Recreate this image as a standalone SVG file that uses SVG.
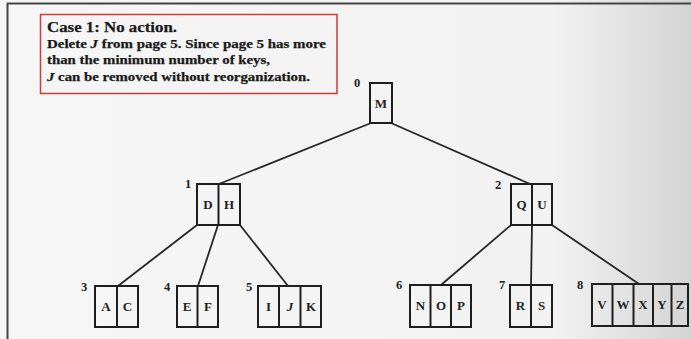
<svg xmlns="http://www.w3.org/2000/svg" width="691" height="339" viewBox="0 0 691 339">
  <defs>
    <linearGradient id="page" x1="0" y1="0" x2="1" y2="0">
      <stop offset="0" stop-color="#f6f6f6"/>
      <stop offset="0.8" stop-color="#f2f2f2"/>
      <stop offset="1" stop-color="#d4d4d4"/>
    </linearGradient>
    <style>
      .box { fill: none; stroke: #1e1e1e; stroke-width: 2; }
      .div { stroke: #1e1e1e; stroke-width: 2; }
      .edge { stroke: #262626; stroke-width: 1.8; fill: none; }
      .key { font-family: "Liberation Serif", "Times New Roman", serif; font-weight: bold; font-size: 13px; fill: #222; text-anchor: middle; }
      .num { font-family: "Liberation Serif", "Times New Roman", serif; font-weight: bold; font-size: 12.5px; fill: #222; text-anchor: middle; }
      .cap { font-family: "Liberation Serif", "Times New Roman", serif; font-weight: bold; fill: #1a1a1a; stroke: #1a1a1a; stroke-width: 0.25; }
    </style>
  </defs>

  <!-- page -->
  <rect x="0" y="0" width="691" height="339" fill="url(#page)"/>
  <line x1="7" y1="3.5" x2="691" y2="3.5" stroke="#444" stroke-width="2"/>
  <line x1="7.5" y1="3" x2="7.5" y2="339" stroke="#444" stroke-width="2"/>

  <!-- caption -->
  <g id="caption">
    <rect x="40.5" y="14.5" width="296.5" height="79" fill="none" stroke="#d23a3a" stroke-width="1.5"/>
    <text class="cap" x="47" y="32" font-size="14.5" textLength="130" lengthAdjust="spacingAndGlyphs">Case 1: No action.</text>
    <text class="cap" x="47" y="48" font-size="12.5" textLength="279" lengthAdjust="spacingAndGlyphs">Delete <tspan font-style="italic">J</tspan> from page 5. Since page 5 has more</text>
    <text class="cap" x="47" y="64" font-size="12.5" textLength="223" lengthAdjust="spacingAndGlyphs">than the minimum number of keys,</text>
    <text class="cap" x="47" y="81" font-size="12.5" textLength="263" lengthAdjust="spacingAndGlyphs"><tspan font-style="italic">J</tspan> can be removed without reorganization.</text>
  </g>

  <!-- connectors -->
  <g id="connectors">
    <line class="edge" x1="371" y1="123" x2="219" y2="184"/>
    <line class="edge" x1="391" y1="123" x2="530" y2="184"/>
    <line class="edge" x1="197" y1="225" x2="118" y2="286"/>
    <line class="edge" x1="218" y1="225" x2="198" y2="286"/>
    <line class="edge" x1="240" y1="225" x2="288" y2="286"/>
    <line class="edge" x1="511" y1="225" x2="441" y2="285"/>
    <line class="edge" x1="532" y1="225" x2="531" y2="285"/>
    <line class="edge" x1="552" y1="225" x2="639" y2="284"/>
  </g>

  <!-- page 0 -->
  <g id="page0">
    <text class="num" x="357" y="87">0</text>
    <rect class="box" x="370" y="83" width="22" height="40"/>
    <text class="key" x="381" y="108">M</text>
  </g>

  <!-- page 1 -->
  <g id="page1">
    <text class="num" x="188" y="188">1</text>
    <rect class="box" x="197" y="184" width="43" height="41"/>
    <line class="div" x1="218.5" y1="184" x2="218.5" y2="225"/>
    <text class="key" x="208" y="209">D</text>
    <text class="key" x="229" y="209">H</text>
  </g>

  <!-- page 2 -->
  <g id="page2">
    <text class="num" x="498" y="189">2</text>
    <rect class="box" x="511" y="184" width="41" height="41"/>
    <line class="div" x1="532" y1="184" x2="532" y2="225"/>
    <text class="key" x="521.5" y="209">Q</text>
    <text class="key" x="542" y="209">U</text>
  </g>

  <!-- page 3 -->
  <g id="page3">
    <text class="num" x="84" y="291">3</text>
    <rect class="box" x="95" y="286" width="43" height="41"/>
    <line class="div" x1="117" y1="286" x2="117" y2="327"/>
    <text class="key" x="106" y="311">A</text>
    <text class="key" x="127.5" y="311">C</text>
  </g>

  <!-- page 4 -->
  <g id="page4">
    <text class="num" x="167" y="291">4</text>
    <rect class="box" x="177" y="286" width="41" height="41"/>
    <line class="div" x1="197.5" y1="286" x2="197.5" y2="327"/>
    <text class="key" x="187" y="311">E</text>
    <text class="key" x="208" y="311">F</text>
  </g>

  <!-- page 5 -->
  <g id="page5">
    <text class="num" x="249" y="291">5</text>
    <rect class="box" x="258" y="286" width="63" height="41"/>
    <line class="div" x1="279" y1="286" x2="279" y2="327"/>
    <line class="div" x1="300.5" y1="286" x2="300.5" y2="327"/>
    <text class="key" x="268.5" y="311">I</text>
    <text class="key" x="290" y="311" font-style="italic">J</text>
    <text class="key" x="311" y="311">K</text>
  </g>

  <!-- page 6 -->
  <g id="page6">
    <text class="num" x="399" y="289">6</text>
    <rect class="box" x="410" y="285" width="61" height="42"/>
    <line class="div" x1="430.5" y1="285" x2="430.5" y2="327"/>
    <line class="div" x1="451" y1="285" x2="451" y2="327"/>
    <text class="key" x="420.5" y="310">N</text>
    <text class="key" x="441" y="310">O</text>
    <text class="key" x="461" y="310">P</text>
  </g>

  <!-- page 7 -->
  <g id="page7">
    <text class="num" x="502" y="289">7</text>
    <rect class="box" x="510" y="285" width="42" height="42"/>
    <line class="div" x1="531" y1="285" x2="531" y2="327"/>
    <text class="key" x="520.5" y="310">R</text>
    <text class="key" x="541.5" y="310">S</text>
  </g>

  <!-- page 8 -->
  <g id="page8">
    <text class="num" x="580" y="289">8</text>
    <rect class="box" x="592" y="284" width="96" height="42"/>
    <line class="div" x1="612.5" y1="284" x2="612.5" y2="326"/>
    <line class="div" x1="633.5" y1="284" x2="633.5" y2="326"/>
    <line class="div" x1="653" y1="284" x2="653" y2="326"/>
    <line class="div" x1="671.5" y1="284" x2="671.5" y2="326"/>
    <text class="key" x="602" y="309">V</text>
    <text class="key" x="623" y="309">W</text>
    <text class="key" x="643" y="309">X</text>
    <text class="key" x="662" y="309">Y</text>
    <text class="key" x="680" y="309">Z</text>
  </g>
</svg>
